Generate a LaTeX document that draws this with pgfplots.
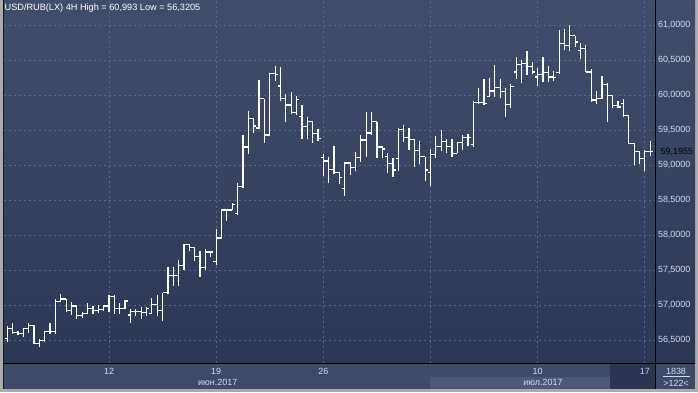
\documentclass[border=0pt]{standalone}
\usepackage{pgfplots}
\pgfplotsset{compat=1.18}
\usepackage{pgfplotstable}
\usepackage{fontspec}
\setmainfont{Liberation Sans}
\definecolor{bgtop}{HTML}{414E6B}
\definecolor{bgbot}{HTML}{2C3756}
\definecolor{gridc}{HTML}{5B6A8A}
\definecolor{strip}{HTML}{3E4A67}
\definecolor{striplight}{HTML}{4D5976}
\definecolor{stripdark}{HTML}{2B3450}
\definecolor{labc}{HTML}{D2DAEE}
\definecolor{framec}{HTML}{ABABAB}
\definecolor{tagc}{HTML}{D6D6D6}

\pgfplotstableread{
o h l c
56.52 56.71 56.48 56.67
56.67 56.74 56.59 56.61
56.61 56.63 56.57 56.60
56.60 56.68 56.55 56.67
56.67 56.75 56.61 56.71
56.71 56.72 56.44 56.45
56.45 56.52 56.40 56.50
56.50 56.63 56.48 56.62
56.62 56.74 56.59 56.63
56.63 57.09 56.59 57.05
57.05 57.16 57.04 57.09
57.09 57.09 56.90 56.92
56.92 57.05 56.86 56.99
56.99 56.99 56.80 56.85
56.85 56.90 56.82 56.88
56.88 57.03 56.87 56.95
56.95 56.99 56.87 56.93
56.93 57.00 56.89 56.94
56.94 57.01 56.92 56.99
56.99 57.14 56.91 57.13
57.13 57.14 56.87 56.95
56.95 57.03 56.87 56.95
56.95 57.08 56.94 57.06
56.86 56.94 56.75 56.91
56.91 56.95 56.85 56.91
56.91 56.97 56.81 56.90
56.90 56.97 56.85 56.95
56.88 57.11 56.87 57.01
57.01 57.14 56.84 56.93
56.93 57.18 56.78 57.18
57.18 57.55 57.16 57.43
57.43 57.54 57.28 57.43
57.43 57.65 57.28 57.57
57.57 57.88 57.50 57.87
57.87 57.87 57.77 57.83
57.83 57.83 57.63 57.70
57.70 57.77 57.41 57.54
57.54 57.81 57.51 57.76
57.76 57.77 57.69 57.76
57.63 58.09 57.57 57.96
57.96 58.37 57.94 58.36
58.36 58.37 58.20 58.36
58.36 58.46 58.36 58.44
58.31 58.75 58.29 58.70
58.70 59.43 58.67 59.26
59.26 59.77 59.16 59.67
59.67 59.67 59.46 59.56
59.53 60.22 59.51 59.95
59.95 59.95 59.32 59.43
59.43 60.31 59.41 60.31
60.31 60.41 60.20 60.30
60.13 60.40 59.91 59.95
59.95 60.02 59.62 59.86
59.86 60.05 59.73 59.75
59.75 59.99 59.72 59.94
59.69 59.86 59.38 59.55
59.55 59.69 59.38 59.62
59.62 59.62 59.32 59.45
59.45 59.51 59.34 59.38
59.11 59.16 58.85 59.06
59.06 59.12 58.74 58.94
58.94 59.28 58.88 58.90
58.90 58.91 58.73 58.82
58.67 59.04 58.56 59.03
59.03 59.04 58.86 58.97
58.97 59.19 58.91 59.11
59.11 59.43 59.05 59.36
59.36 59.76 59.12 59.46
59.46 59.76 59.43 59.62
59.62 59.62 59.10 59.26
59.26 59.28 59.10 59.23
59.12 59.17 58.89 59.02
59.02 59.10 58.83 58.93
59.09 59.53 58.91 59.51
59.51 59.58 59.33 59.40
59.40 59.53 59.22 59.37
59.37 59.37 58.97 59.21
59.21 59.34 59.01 59.12
59.12 59.12 58.77 58.93
58.90 59.23 58.71 59.15
59.15 59.41 59.10 59.27
59.27 59.50 59.20 59.34
59.34 59.37 59.17 59.27
59.27 59.37 59.12 59.17
59.17 59.33 59.17 59.32
59.32 59.43 59.22 59.40
59.40 59.45 59.27 59.40
59.29 59.91 59.26 59.90
59.90 60.10 59.87 59.90
59.90 60.23 59.86 59.88
59.98 60.24 59.97 60.06
60.06 60.43 59.98 60.11
60.11 60.23 59.96 60.05
60.05 60.10 59.69 59.87
59.87 60.16 59.81 60.12
60.33 60.55 60.23 60.44
60.44 60.50 60.18 60.45
60.45 60.63 60.29 60.41
60.41 60.48 60.30 60.33
60.26 60.39 60.13 60.30
60.30 60.55 60.19 60.32
60.32 60.41 60.19 60.26
60.26 60.34 60.20 60.25
60.32 60.93 60.30 60.74
60.74 60.95 60.64 60.71
60.71 61.00 60.63 60.85
60.85 60.85 60.69 60.76
60.64 60.74 60.51 60.67
60.67 60.72 60.33 60.33
60.33 60.38 59.90 59.93
59.93 60.06 59.88 59.95
59.95 60.27 59.95 60.15
60.15 60.17 59.62 60.00
60.00 60.00 59.82 59.85
59.85 59.91 59.81 59.83
59.88 59.95 59.69 59.71
59.71 59.71 59.30 59.31
59.31 59.31 59.00 59.20
59.20 59.20 59.02 59.10
59.09 59.21 58.91 59.19
59.19 59.34 59.13 59.1955
}\ohlc

\begin{document}
\begin{tikzpicture}[x=1bp,y=1bp]
\useasboundingbox (0,0) rectangle (698,392);
\fill[framec] (0,0) rectangle (698,392);
\shade[top color=bgtop,bottom color=bgbot] (3,29) rectangle (695,392);
\fill[strip] (3,3) rectangle (695,28.5);
\fill[striplight] (430,3) rectangle (610,15);
\fill[stripdark] (610,3) rectangle (655,28.5);
\draw[black,line width=0.9bp] (3,28.5) -- (695,28.5);
\draw[black,line width=0.9bp] (655.5,3) -- (655.5,392);
\draw[black!70!bgtop,line width=0.8bp] (3.4,3) -- (3.4,392);

\begin{axis}[
  at={(4bp,29bp)}, anchor=south west,
  scale only axis, width=651bp, height=363bp,
  xmin=0.4034, xmax=121.9, ymin=56.1714, ymax=61.3571,
  axis line style={draw=none},
  major tick length=0pt,
  clip=false,
  xtick={20,40,60,80,100,120},
  xticklabels={12,19,26,,10,17},
  ytick={56.5,57,57.5,58,58.5,59,59.5,60,60.5,61},
  yticklabel pos=right,
  grid=major,
  major grid style={gridc, dash pattern=on 2bp off 3bp, line width=0.8bp},
  tick label style={font=\fontsize{9}{10}\selectfont, text=labc, inner sep=0pt},
  xticklabel style={anchor=north, yshift=-5.3bp},
  yticklabel style={anchor=west, xshift=2.8bp},
  /pgf/number format/fixed,
  /pgf/number format/fixed zerofill,
  /pgf/number format/precision=4,
  /pgf/number format/use comma,
  /pgf/number format/assume math mode=true,
]
\addplot[white, line width=1.2bp, quiver={u=0, v=\thisrow{h}-\thisrow{l}}]
  table[x expr=\coordindex+1, y=l] {\ohlc};
\addplot[white, line width=1.2bp, quiver={u=-0.5, v=0}]
  table[x expr=\coordindex+1, y=o] {\ohlc};
\addplot[white, line width=1.2bp, quiver={u=0.5, v=0}]
  table[x expr=\coordindex+1, y=c] {\ohlc};

\node[font=\fontsize{9}{10}\selectfont, text=labc, inner sep=0pt]
  at (axis cs:40.3,56.1714) [yshift=-19.7bp] {июн.2017};
\node[font=\fontsize{9}{10}\selectfont, text=labc, inner sep=0pt]
  at (axis cs:101,56.1714) [yshift=-19.7bp] {июл.2017};

\draw[fill=tagc, draw=black!45, line width=0.5bp]
  (axis cs:121.9,59.1955) ++(1.5bp,0) -- ++(4.5bp,5.5bp) -- ++(32bp,0)
  -- ++(0,-11bp) -- ++(-32bp,0) -- cycle;
\node[font=\fontsize{9}{10}\selectfont, text=black, inner sep=0pt, anchor=west]
  at (axis cs:121.9,59.1955) [xshift=5.5bp] {59,1955};
\end{axis}

\node[font=\fontsize{9.2}{11}\selectfont, text=white, inner sep=0pt, anchor=west]
  at (4.5,384) {USD/RUB(LX) 4H High = 60,993 Low = 56,3205};
\node[font=\fontsize{9}{10}\selectfont, text=labc, inner sep=0pt] at (676,20.5) {1838};
\draw[labc, line width=0.5bp] (663,15.5) -- (690,15.5);
\node[font=\fontsize{9}{10}\selectfont, text=labc, inner sep=0pt] at (676,9) {>122<};
\end{tikzpicture}
\end{document}
